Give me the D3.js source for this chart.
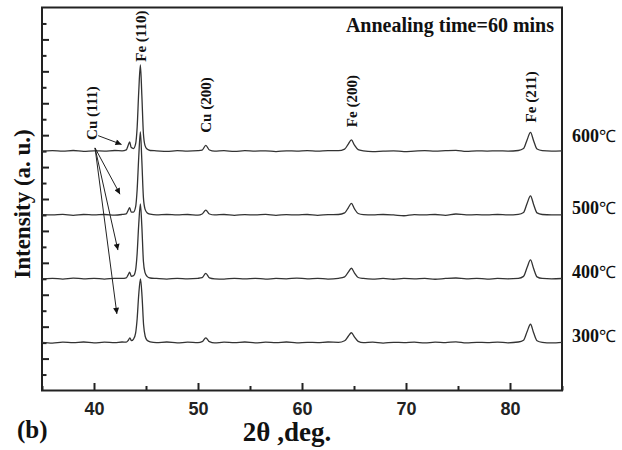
<!DOCTYPE html>
<html>
<head>
<meta charset="utf-8">
<script src="https://cdn.jsdelivr.net/npm/d3@7"></script>
<style>
  html, body { margin: 0; padding: 0; background: #fff; }
  svg { display: block; }
</style>
</head>
<body>
<svg id="chart" width="622" height="450"></svg>
<script>
// XRD patterns (2θ in degrees, intensity in arbitrary units above each pattern's baseline)
const temperatures = ["300", "400", "500", "600"];
const offsets = [3, 7, 11, 15];

const pattern300 = [
  [35,0.02],[36,-0.03],[37,0.03],[38,0.0],[39,0.04],[40,-0.02],[41,0.03],[42,0.0],[42.7,0.04],[43.1,0.03],
  [43.3,0.15],[43.45,0.3],[43.6,0.12],[43.8,0.22],[44.0,0.6],[44.15,1.5],[44.3,3.0],[44.47,4.0],[44.62,2.9],
  [44.77,1.1],[44.92,0.4],[45.1,0.15],[45.4,0.05],[46,0.0],[47,0.04],[48,-0.02],[49,0.03],[50,0.0],[50.4,0.06],
  [50.75,0.3],[51.1,0.06],[51.6,-0.02],[52.5,0.03],[53.5,0.0],[54.5,0.04],[55.5,-0.02],[56.5,0.03],[57.5,0.0],
  [58.5,0.04],[59.5,-0.02],[60.5,0.02],[61.5,0.0],[62.5,0.04],[63.5,0.02],[64.1,0.12],[64.45,0.4],[64.75,0.62],
  [65.05,0.35],[65.4,0.08],[65.9,0.0],[66.8,0.03],[67.8,-0.03],[68.8,0.02],[69.8,0.0],[70.8,0.03],[71.8,-0.02],
  [72.8,0.03],[73.8,0.0],[74.8,0.05],[75.8,-0.02],[76.8,0.02],[77.8,0.0],[78.8,0.03],[79.8,-0.01],[80.8,0.04],
  [81.3,0.15],[81.65,0.7],[81.97,1.15],[82.27,0.62],[82.6,0.12],[83.1,0.02],[84,-0.02],[85,0.02]
];

const pattern400 = [
  [35,0.0],[36,0.03],[37,-0.02],[38,0.04],[39,0.0],[40,0.03],[41,-0.02],[42,0.03],[42.7,0.02],[43.1,0.06],
  [43.28,0.25],[43.43,0.42],[43.58,0.16],[43.8,0.2],[44.0,0.55],[44.15,1.6],[44.3,3.4],[44.46,4.7],[44.6,3.3],
  [44.75,1.1],[44.9,0.4],[45.1,0.15],[45.4,0.05],[46,0.02],[47,-0.02],[48,0.03],[49,0.0],[50,0.03],[50.4,0.07],
  [50.75,0.34],[51.1,0.06],[51.6,0.0],[52.5,-0.02],[53.5,0.03],[54.5,0.0],[55.5,0.03],[56.5,-0.02],[57.5,0.02],
  [58.5,0.0],[59.5,0.04],[60.5,0.0],[61.5,0.03],[62.5,-0.02],[63.5,0.03],[64.1,0.12],[64.45,0.42],[64.75,0.66],
  [65.05,0.36],[65.4,0.08],[65.9,0.02],[66.8,-0.02],[67.8,0.02],[68.8,-0.03],[69.8,0.02],[70.8,0.0],[71.8,0.03],
  [72.8,-0.03],[73.8,0.02],[74.8,0.05],[75.8,0.0],[76.8,0.03],[77.8,-0.02],[78.8,0.02],[79.8,0.0],[80.8,0.03],
  [81.3,0.15],[81.65,0.72],[81.97,1.18],[82.27,0.64],[82.6,0.12],[83.1,0.02],[84,0.0],[85,0.02]
];

const pattern500 = [
  [35,0.02],[36,0.0],[37,0.04],[38,-0.02],[39,0.03],[40,0.0],[41,0.03],[42,-0.01],[42.7,0.03],[43.1,0.07],
  [43.28,0.28],[43.43,0.46],[43.58,0.18],[43.8,0.18],[44.0,0.5],[44.15,1.6],[44.3,3.6],[44.46,5.2],[44.6,3.4],
  [44.75,1.1],[44.9,0.38],[45.1,0.14],[45.4,0.05],[46,0.0],[47,0.03],[48,0.0],[49,0.03],[50,-0.01],[50.4,0.06],
  [50.75,0.3],[51.1,0.06],[51.6,0.0],[52.5,0.03],[53.5,-0.02],[54.5,0.02],[55.5,0.0],[56.5,0.04],[57.5,-0.02],
  [58.5,0.02],[59.5,0.0],[60.5,0.03],[61.5,-0.02],[62.5,0.02],[63.5,0.03],[64.1,0.13],[64.45,0.45],[64.75,0.72],
  [65.05,0.38],[65.4,0.09],[65.9,0.02],[66.8,0.0],[67.8,0.03],[68.8,0.0],[69.8,-0.05],[70.8,0.02],[71.8,0.0],
  [72.8,0.03],[73.8,-0.02],[74.8,0.06],[75.8,0.0],[76.8,0.02],[77.8,0.0],[78.8,0.03],[79.8,0.0],[80.8,0.04],
  [81.3,0.16],[81.65,0.74],[81.97,1.2],[82.27,0.66],[82.6,0.13],[83.1,0.03],[84,0.0],[85,0.01]
];

const pattern600 = [
  [35,0.0],[36,0.03],[37,0.0],[38,0.04],[39,-0.02],[40,0.02],[41,0.0],[42,0.04],[42.7,0.02],[43.1,0.08],
  [43.28,0.35],[43.43,0.58],[43.58,0.22],[43.8,0.16],[44.0,0.45],[44.15,1.5],[44.3,3.7],[44.46,5.4],[44.6,3.5],
  [44.75,1.1],[44.9,0.36],[45.1,0.13],[45.4,0.04],[46,0.02],[47,-0.02],[48,0.03],[49,0.0],[50,0.03],[50.4,0.07],
  [50.75,0.36],[51.1,0.07],[51.6,0.0],[52.5,0.03],[53.5,-0.02],[54.5,0.03],[55.5,0.0],[56.5,0.02],[57.5,-0.03],
  [58.5,0.02],[59.5,0.0],[60.5,0.03],[61.5,0.0],[62.5,0.03],[63.5,0.03],[64.1,0.13],[64.45,0.44],[64.75,0.7],
  [65.05,0.37],[65.4,0.09],[65.9,0.02],[66.8,-0.03],[67.8,0.0],[68.8,0.02],[69.8,-0.03],[70.8,0.0],[71.8,0.03],
  [72.8,0.0],[73.8,0.03],[74.8,0.05],[75.8,-0.02],[76.8,0.02],[77.8,0.0],[78.8,0.02],[79.8,0.0],[80.8,0.04],
  [81.3,0.16],[81.65,0.72],[81.97,1.17],[82.27,0.65],[82.6,0.13],[83.1,0.03],[84,0.0],[85,0.02]
];

const patterns = [pattern300, pattern400, pattern500, pattern600];

// Reflection labels: name, 2θ, and the level (axis units) where the rotated label ends
const peakNames = ["Cu (111)", "Fe (110)", "Cu (200)", "Fe (200)", "Fe (211)"];
const peakPositions = [39.75, 44.45, 50.75, 64.75, 81.95];
const peakLabelBase = [15.7, 20.6, 16.15, 16.5, 16.8];

// Cu (111) pointer arrows: tail and head in (2θ, intensity axis units)
const arrowTails = [[40.4, 15.97], [40.1, 15.2], [40.1, 15.2], [40.1, 15.2]];
const arrowHeads = [[42.65, 15.42], [42.5, 12.3], [42.3, 8.8], [42.2, 4.8]];

const xTicks = [40, 50, 60, 70, 80];
const xMinorTicks = [35, 45, 55, 65, 75, 85];
const yTickCount = 24;

const svg = d3.select("#chart");
const margin = { left: 42, right: 60, top: 7.5, bottom: 59.5 };
const W = 622, H = 450;

const x = d3.scaleLinear().domain([35, 85]).range([margin.left, W - margin.right]);
const y = d3.scaleLinear().domain([0, 24]).range([H - margin.bottom, margin.top]);

const ink = "#222";

// Plot frame
svg.append("rect")
  .attr("x", x(35)).attr("y", y(24))
  .attr("width", x(85) - x(35)).attr("height", y(0) - y(24))
  .attr("fill", "none").attr("stroke", ink).attr("stroke-width", 2);

// Bottom axis with inward ticks
const xAxis = d3.axisBottom(x).tickValues(xTicks).tickSizeInner(-7.5).tickSizeOuter(0).tickPadding(11.5);
const gx = svg.append("g").attr("transform", `translate(0,${y(0)})`).call(xAxis);
gx.select(".domain").remove();
gx.selectAll(".tick line").attr("stroke", ink).attr("stroke-width", 2);
gx.selectAll(".tick text")
  .attr("fill", ink)
  .style("font-family", "'Liberation Sans', Arial, sans-serif")
  .style("font-weight", "bold")
  .style("font-size", "18px");

const gxm = svg.append("g").attr("transform", `translate(0,${y(0)})`)
  .call(d3.axisBottom(x).tickValues(xMinorTicks).tickSizeInner(-4.5).tickSizeOuter(0).tickFormat(""));
gxm.select(".domain").remove();
gxm.selectAll(".tick line").attr("stroke", ink).attr("stroke-width", 2);

// Left axis: unlabeled ticks, long on even units, short on odd
const yVals = d3.range(1, yTickCount);
const gy = svg.append("g").attr("transform", `translate(${x(35)},0)`)
  .call(d3.axisLeft(y).tickValues(yVals).tickSizeOuter(0).tickFormat(""));
gy.select(".domain").remove();
gy.selectAll(".tick line")
  .attr("x2", d => (d % 2 === 0 ? 7 : 4.5))
  .attr("stroke", ink).attr("stroke-width", 2);

// Patterns
const line = d3.line()
  .x(d => x(d[0]))
  .y(d => y(d[1]))
  .curve(d3.curveMonotoneX);

patterns.forEach((p, i) => {
  const shifted = p.map(([t, v]) => [t, v + offsets[i]]);
  svg.append("path")
    .datum(shifted)
    .attr("d", line)
    .attr("fill", "none")
    .attr("stroke", "#333")
    .attr("stroke-width", 1.3)
    .attr("stroke-linejoin", "round");
});

// Temperature labels at right
const serif = "'Liberation Serif', 'Times New Roman', serif";
temperatures.forEach((t, i) => {
  const nudge = i === 3 ? 0.55 : 0.05;
  const txt = svg.append("text")
    .attr("x", x(85) + 10)
    .attr("y", y(offsets[i] + nudge))
    .attr("fill", "#111")
    .style("font-family", serif)
    .style("font-size", "18px")
    .style("font-weight", "bold");
  txt.append("tspan").text(t);
  txt.append("tspan")
    .style("font-weight", "normal")
    .style("font-size", "17px")
    .text("℃");
});

// Reflection labels (rotated)
peakNames.forEach((name, i) => {
  const px = x(peakPositions[i]), py = y(peakLabelBase[i]);
  svg.append("text")
    .attr("transform", `translate(${px + 5.5},${py}) rotate(-90)`)
    .attr("fill", "#111")
    .style("font-family", serif)
    .style("font-size", "15px")
    .style("font-weight", "bold")
    .text(name);
});

// Arrows
const defs = svg.append("defs");
defs.append("marker")
  .attr("id", "head")
  .attr("viewBox", "0 0 10 10")
  .attr("refX", 10).attr("refY", 5)
  .attr("markerWidth", 10).attr("markerHeight", 6)
  .attr("markerUnits", "userSpaceOnUse")
  .attr("orient", "auto")
  .append("path").attr("d", "M0,0 L10,5 L0,10 z").attr("fill", "#111");

arrowTails.forEach((tail, i) => {
  const head = arrowHeads[i];
  svg.append("line")
    .attr("x1", x(tail[0])).attr("y1", y(tail[1]))
    .attr("x2", x(head[0])).attr("y2", y(head[1]))
    .attr("stroke", "#222").attr("stroke-width", 1)
    .attr("marker-end", "url(#head)");
});

// Annotation and axis titles
svg.append("text")
  .attr("x", x(85) - 8).attr("y", 32)
  .attr("text-anchor", "end")
  .attr("fill", "#111")
  .style("font-family", serif)
  .style("font-size", "20px")
  .style("font-weight", "bold")
  .text("Annealing time=60 mins");

svg.append("text")
  .attr("transform", `translate(30,204) rotate(-90)`)
  .attr("text-anchor", "middle")
  .attr("fill", "#111")
  .style("font-family", serif)
  .style("font-size", "23px")
  .style("font-weight", "bold")
  .text("Intensity (a. u.)");

svg.append("text")
  .attr("x", 287).attr("y", 441)
  .attr("text-anchor", "middle")
  .attr("fill", "#111")
  .style("font-family", serif)
  .style("font-size", "27px")
  .style("font-weight", "bold")
  .text("2θ ,deg.");

svg.append("text")
  .attr("x", 17).attr("y", 438)
  .attr("fill", "#111")
  .style("font-family", serif)
  .style("font-size", "25px")
  .style("font-weight", "bold")
  .text("(b)");
</script>
</body>
</html>
